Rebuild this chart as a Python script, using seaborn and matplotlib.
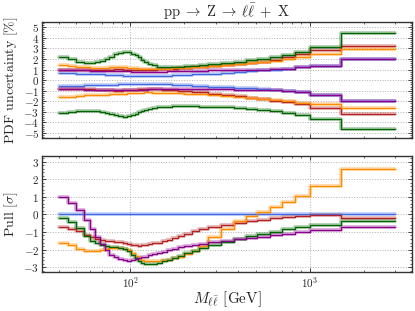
import matplotlib
matplotlib.use('Agg')
import matplotlib.pyplot as plt
from matplotlib.lines import Line2D
from matplotlib.ticker import AutoMinorLocator, MultipleLocator
import numpy as np
import pandas as pd
import seaborn as sns

# bin edges in GeV
mass_edges = [40, 45, 50, 55, 60, 64, 68, 72, 76, 81, 86, 91, 96, 101, 106, 110, 115, 120, 126, 133,
              141, 150, 160, 171, 185, 200, 220, 243, 273, 320, 380, 440, 510, 600, 700, 830, 1000, 1500, 3000]

pdf_names = ['NNPDF4.0', 'NNPDF3.1', 'MSHT20', 'CT18', 'ABMP16']
pdf_colors = ['royalblue', 'firebrick', 'darkorange', 'darkgreen', 'darkmagenta']

# PDF uncertainty, upper / lower edge [%]
nnpdf40_up = [0.68, 0.65, 0.62, 0.6, 0.58, 0.56, 0.54, 0.52, 0.5, 0.48, 0.46, 0.44, 0.42, 0.4, 0.39,
              0.38, 0.37, 0.37, 0.37, 0.38, 0.39, 0.4, 0.42, 0.45, 0.48, 0.52, 0.56, 0.6, 0.63, 0.67,
              0.76, 0.84, 0.92, 1.0, 1.05, 1.2, 1.35, 2.02]
nnpdf40_dn = [-0.55, -0.53, -0.51, -0.49, -0.47, -0.46, -0.45, -0.44, -0.43, -0.42, -0.41, -0.4, -0.39,
              -0.38, -0.37, -0.37, -0.37, -0.38, -0.38, -0.38, -0.38, -0.39, -0.41, -0.44, -0.47, -0.5,
              -0.54, -0.58, -0.62, -0.66, -0.72, -0.78, -0.84, -0.9, -0.98, -1.1, -1.37, -1.94]
nnpdf31_up = [0.92, 0.92, 0.93, 0.95, 0.96, 0.97, 0.98, 1.0, 1.0, 1.02, 1.02, 1.0, 0.98, 0.97, 0.96,
              0.96, 0.96, 0.97, 0.98, 1.0, 1.02, 1.03, 1.05, 1.08, 1.12, 1.16, 1.21, 1.27, 1.34, 1.43,
              1.53, 1.64, 1.76, 1.92, 2.15, 2.5, 2.87, 3.27]
nnpdf31_dn = [-0.8, -0.82, -0.84, -0.86, -0.88, -0.9, -0.93, -0.95, -0.97, -0.98, -0.98, -0.97, -0.95,
              -0.93, -0.9, -0.88, -0.86, -0.85, -0.85, -0.86, -0.88, -0.9, -0.92, -0.95, -0.98, -1.02,
              -1.08, -1.15, -1.28, -1.4, -1.53, -1.66, -1.8, -1.95, -2.1, -2.28, -2.66, -3.17]
msht20_up = [1.45, 1.35, 1.27, 1.2, 1.18, 1.17, 1.17, 1.18, 1.2, 1.22, 1.22, 1.2, 1.18, 1.15, 1.12,
             1.1, 1.08, 1.07, 1.06, 1.06, 1.07, 1.08, 1.1, 1.12, 1.15, 1.18, 1.22, 1.27, 1.33, 1.4,
             1.5, 1.6, 1.7, 1.82, 2.0, 2.2, 2.45, 2.98]
msht20_dn = [-1.62, -1.55, -1.48, -1.42, -1.4, -1.38, -1.37, -1.36, -1.35, -1.33, -1.3, -1.28, -1.25,
             -1.22, -1.2, -1.18, -1.17, -1.16, -1.16, -1.17, -1.18, -1.19, -1.2, -1.22, -1.24, -1.27,
             -1.3, -1.35, -1.42, -1.5, -1.6, -1.7, -1.8, -1.9, -1.98, -2.12, -2.3, -2.67]
ct18_up = [2.2, 2.0, 1.75, 1.6, 1.6, 1.7, 1.85, 2.0, 2.2, 2.45, 2.6, 2.65, 2.62, 2.5, 2.35,
           2.15, 1.95, 1.75, 1.55, 1.4, 1.28, 1.22, 1.2, 1.22, 1.26, 1.3, 1.36, 1.42, 1.5, 1.62,
           1.76, 1.88, 2.0, 2.18, 2.36, 2.63, 3.15, 4.46]
ct18_dn = [-3.1, -3.0, -2.95, -2.9, -2.88, -2.92, -3.0, -3.1, -3.2, -3.32, -3.42, -3.45, -3.42, -3.3,
           -3.18, -3.05, -2.93, -2.82, -2.72, -2.63, -2.57, -2.53, -2.5, -2.48, -2.47, -2.48, -2.49,
           -2.5, -2.53, -2.58, -2.68, -2.77, -2.86, -2.96, -3.1, -3.27, -3.66, -4.6]
abmp16_up = [0.95, 0.95, 0.93, 0.92, 0.9, 0.9, 0.89, 0.88, 0.87, 0.86, 0.85, 0.84, 0.83, 0.82, 0.82,
             0.81, 0.81, 0.81, 0.81, 0.81, 0.82, 0.82, 0.83, 0.84, 0.85, 0.86, 0.88, 0.9, 0.92, 0.94,
             0.96, 0.98, 1.0, 1.03, 1.06, 1.21, 1.35, 2.03]
abmp16_dn = [-0.87, -0.88, -0.88, -0.89, -0.9, -0.91, -0.92, -0.93, -0.94, -0.95, -0.95, -0.95, -0.94,
             -0.93, -0.92, -0.91, -0.9, -0.89, -0.88, -0.87, -0.84, -0.83, -0.82, -0.82, -0.82, -0.83,
             -0.84, -0.85, -0.86, -0.88, -0.9, -0.92, -0.94, -0.97, -1.0, -1.12, -1.37, -1.94]

# pull w.r.t. NNPDF4.0 [sigma]
nnpdf40_pull = [0.0] * 38
nnpdf31_pull = [-0.72, -0.85, -0.95, -1.2, -1.3, -1.4, -1.45, -1.5, -1.52, -1.55, -1.58, -1.62, -1.68,
                -1.72, -1.75, -1.77, -1.76, -1.74, -1.7, -1.65, -1.6, -1.52, -1.45, -1.35, -1.25, -1.1,
                -0.95, -0.82, -0.7, -0.58, -0.48, -0.38, -0.3, -0.2, -0.13, -0.08, -0.05, -0.2]
msht20_pull = [-1.61, -1.75, -1.95, -2.07, -2.1, -2.08, -2.03, -1.97, -1.92, -1.9, -1.9, -1.95, -2.05,
               -2.2, -2.35, -2.48, -2.58, -2.64, -2.67, -2.67, -2.65, -2.62, -2.58, -2.5, -2.4, -2.27,
               -2.07, -1.8, -1.27, -0.85, -0.4, -0.12, 0.12, 0.4, 0.7, 1.04, 1.61, 2.6]
ct18_pull = [-0.23, -0.45, -0.8, -1.25, -1.5, -1.65, -1.75, -1.82, -1.85, -1.87, -1.9, -1.97, -2.1,
             -2.3, -2.5, -2.65, -2.75, -2.8, -2.82, -2.8, -2.75, -2.67, -2.57, -2.46, -2.35, -2.22,
             -2.08, -1.92, -1.75, -1.55, -1.4, -1.25, -1.12, -1.0, -0.85, -0.72, -0.59, -0.38]
abmp16_pull = [1.0, 0.65, 0.25, -0.3, -0.85, -1.3, -1.7, -2.0, -2.3, -2.45, -2.55, -2.62, -2.65, -2.6,
               -2.55, -2.5, -2.45, -2.4, -2.33, -2.27, -2.2, -2.12, -2.05, -1.97, -1.88, -1.8, -1.72,
               -1.66, -1.58, -1.5, -1.42, -1.34, -1.26, -1.18, -1.1, -1.03, -0.88, -0.7]

series = {
    'NNPDF4.0': (nnpdf40_up, nnpdf40_dn, nnpdf40_pull),
    'NNPDF3.1': (nnpdf31_up, nnpdf31_dn, nnpdf31_pull),
    'MSHT20': (msht20_up, msht20_dn, msht20_pull),
    'CT18': (ct18_up, ct18_dn, ct18_pull),
    'ABMP16': (abmp16_up, abmp16_dn, abmp16_pull),
}

rows = []
for name in pdf_names:
    for side, vals in zip(['up', 'dn', 'pull'], series[name]):
        vals = list(vals) + [vals[-1]]  # repeat last value for steps-post
        for m, v in zip(mass_edges, vals):
            rows.append({'pdf': name, 'side': side, 'mass': m, 'value': v})
df = pd.DataFrame(rows)

sns.set_style('ticks')
plt.rcParams['font.family'] = 'serif'
plt.rcParams['font.serif'] = ['cmr10', 'DejaVu Serif']
plt.rcParams['mathtext.fontset'] = 'cm'
plt.rcParams['axes.formatter.use_mathtext'] = True
plt.rcParams['axes.unicode_minus'] = True

palette = dict(zip(pdf_names, pdf_colors))

fig, (ax1, ax2) = plt.subplots(2, 1, sharex=True, figsize=(4.15, 3.11), dpi=100)
fig.subplots_adjust(left=0.101, right=0.993, top=0.929, bottom=0.124, hspace=0.155)

band = df[df.side != 'pull']
pull = df[df.side == 'pull']
for ax, d in [(ax1, band), (ax2, pull)]:
    sns.lineplot(data=d, x='mass', y='value', hue='pdf', units='side', estimator=None,
                 hue_order=pdf_names, palette=palette, drawstyle='steps-post',
                 lw=2.6, alpha=0.35, legend=False, ax=ax)
    sns.lineplot(data=d, x='mass', y='value', hue='pdf', units='side', estimator=None,
                 hue_order=pdf_names, palette=palette, drawstyle='steps-post',
                 lw=0.9, legend=False, ax=ax)

for ax in (ax1, ax2):
    ax.set_xscale('log')
    ax.yaxis.set_major_locator(MultipleLocator(1))
    ax.yaxis.set_minor_locator(AutoMinorLocator(5))
    ax.tick_params(which='both', direction='in', top=True, right=True, labelsize=8, pad=2)
    ax.tick_params(which='major', length=3, width=0.6)
    ax.tick_params(which='minor', length=1.6, width=0.5)
    ax.grid(True, which='major', linestyle=':', color='#b0b0b0', lw=0.7)
    for s in ax.spines.values():
        s.set_linewidth(1.0)
        s.set_color('#333333')

ax1.set_ylim(-5.5, 5.5)
ax2.set_ylim(-3.3, 3.3)
ax1.set_xlabel('')
ax1.set_ylabel(r'PDF uncertainty $[\%]$', fontsize=10)
ax2.set_ylabel(r'Pull $[\sigma]$', fontsize=10)
ax2.set_xlabel(r'$M_{\ell\bar{\ell}}$ [GeV]', fontsize=11)
ax1.yaxis.set_label_coords(-0.058, 0.5)
ax2.yaxis.set_label_coords(-0.058, 0.5)
ax2.xaxis.set_label_coords(0.5, -0.15)
ax1.set_title(r'$\mathrm{pp}\;\rightarrow\;\mathrm{Z}\;\rightarrow\;\ell\bar{\ell}\;+\;\mathrm{X}$',
              fontsize=10.5, pad=4)

handles = [Line2D([], [], color=c, lw=1) for c in pdf_colors]
ax1.legend(handles, pdf_names, ncol=5, mode='expand', frameon=False, fontsize=7.5,
           bbox_to_anchor=(0, -0.26, 1, 0.12), loc='center', handlelength=2.2,
           borderaxespad=0, columnspacing=0.5)

fig.savefig('out.png', dpi=100)
